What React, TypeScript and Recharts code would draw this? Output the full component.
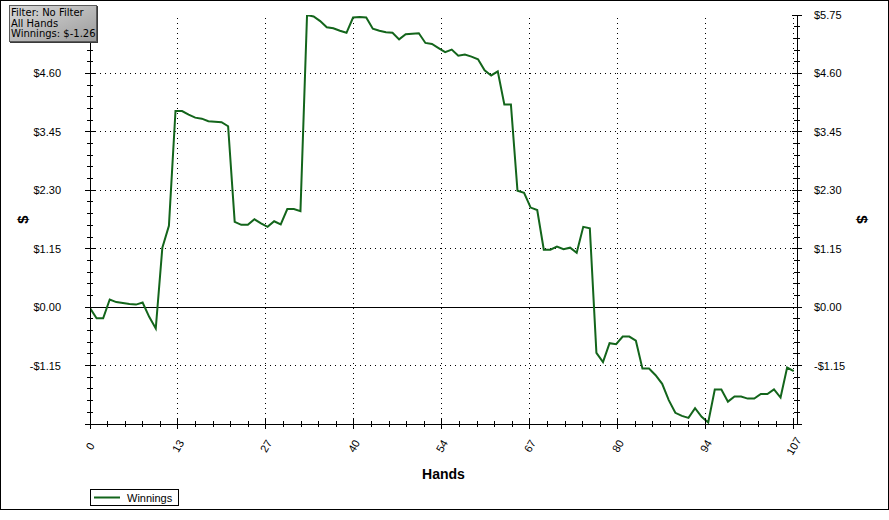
import React from 'react';
import { LineChart, Line, XAxis, YAxis, ReferenceLine, Legend, Label } from 'recharts';

// ---- data ----
const winnings: number[] = [
  -0.02, -0.22, -0.22, 0.15, 0.1, 0.08, 0.06, 0.05, 0.09, -0.19,
  -0.42, 1.17, 1.6, 3.86, 3.86, 3.79, 3.73, 3.71, 3.66, 3.65,
  3.64, 3.56, 1.68, 1.62, 1.62, 1.73, 1.65, 1.58, 1.69, 1.63,
  1.93, 1.93, 1.89, 5.75, 5.72, 5.63, 5.51, 5.49, 5.44, 5.4,
  5.7, 5.71, 5.7, 5.48, 5.44, 5.41, 5.4, 5.27, 5.37, 5.38,
  5.39, 5.2, 5.18, 5.1, 5.02, 5.07, 4.95, 4.97, 4.93, 4.88,
  4.66, 4.56, 4.64, 3.99, 3.99, 2.29, 2.25, 1.96, 1.91, 1.13,
  1.13, 1.19, 1.14, 1.17, 1.07, 1.58, 1.55, -0.9, -1.08, -0.71,
  -0.73, -0.58, -0.58, -0.66, -1.21, -1.21, -1.34, -1.51, -1.83, -2.08,
  -2.14, -2.18, -1.99, -2.16, -2.27, -1.62, -1.62, -1.86, -1.76, -1.76,
  -1.8, -1.8, -1.71, -1.71, -1.62, -1.78, -1.19, -1.26,
];
const hands: number[] = winnings.map((_, i) => i);

const xMajorTicks: number[] = [0, 13.375, 26.75, 40.125, 53.5, 66.875, 80.25, 93.625, 107];
const xTickLabels: string[] = ['0', '13', '27', '40', '54', '67', '80', '94', '107'];
const yMajorTicks: number[] = [-2.3, -1.15, 0, 1.15, 2.3, 3.45, 4.6, 5.75];
// left axis: top label is hidden behind the info box in the reference
const yLeftTickLabels: string[] = ['', '-$1.15', '$0.00', '$1.15', '$2.30', '$3.45', '$4.60', ''];
const yRightTickLabels: string[] = ['', '-$1.15', '$0.00', '$1.15', '$2.30', '$3.45', '$4.60', '$5.75'];
const infoLines: string[] = ['Filter: No Filter', 'All Hands', 'Winnings: $-1.26'];
const seriesName = 'Winnings';

// minor tick subdivisions (5 per major interval)
const withMinors = (majors: number[]) => {
  const out: number[] = [];
  for (let i = 0; i < majors.length - 1; i++) {
    for (let k = 0; k < 5; k++) out.push(+(majors[i] + ((majors[i + 1] - majors[i]) * k) / 5).toFixed(4));
  }
  out.push(majors[majors.length - 1]);
  return out;
};
const xTicks = withMinors(xMajorTicks);
const yTicks = withMinors(yMajorTicks);

const data = hands.map((h, i) => ({ hand: h, w: winnings[i] }));

const FONT = '"Liberation Sans", Arial, sans-serif';
const GREEN = '#13651b';
const majorIdx = (v: number, majors: number[]) => majors.findIndex((m) => Math.abs(m - v) < 1e-3);

const BottomTick = (props: any) => {
  const { x, y, payload } = props;
  const idx = majorIdx(payload.value, xMajorTicks);
  const len = idx >= 0 ? 5 : 3;
  const ly = y + 22;
  return (
    <g>
      <line x1={x} x2={x} y1={y - len} y2={y + len} stroke="#000" strokeWidth={1} shapeRendering="crispEdges" />
      {idx >= 0 && (
        <text
          x={x}
          y={ly}
          transform={`rotate(-60 ${x} ${ly})`}
          textAnchor="middle"
          dominantBaseline="central"
          fontSize={11}
          fontFamily={FONT}
          fill="#000"
        >
          {xTickLabels[idx]}
        </text>
      )}
    </g>
  );
};

const TopTick = (props: any) => {
  const { x, y, payload } = props;
  const idx = majorIdx(payload.value, xMajorTicks);
  const len = idx >= 0 ? 5 : 3;
  return <line x1={x} x2={x} y1={y} y2={y + len} stroke="#000" strokeWidth={1} shapeRendering="crispEdges" />;
};

const LeftTick = (props: any) => {
  const { x, y, payload } = props;
  const idx = majorIdx(payload.value, yMajorTicks);
  const len = idx >= 0 ? 5 : 3;
  return (
    <g>
      <line x1={x - len} x2={x + len} y1={y} y2={y} stroke="#000" strokeWidth={1} shapeRendering="crispEdges" />
      {idx >= 0 && yLeftTickLabels[idx] && (
        <text x={x - 29} y={y} textAnchor="end" dominantBaseline="central" fontSize={11} fontFamily={FONT} fill="#000">
          {yLeftTickLabels[idx]}
        </text>
      )}
    </g>
  );
};

const RightTick = (props: any) => {
  const { x, y, payload } = props;
  const idx = majorIdx(payload.value, yMajorTicks);
  const len = idx >= 0 ? 5 : 3;
  return (
    <g>
      <line x1={x - len} x2={x + len} y1={y} y2={y} stroke="#000" strokeWidth={1} shapeRendering="crispEdges" />
      {idx >= 0 && yRightTickLabels[idx] && (
        <text x={x + 17} y={y} textAnchor="start" dominantBaseline="central" fontSize={11} fontFamily={FONT} fill="#000">
          {yRightTickLabels[idx]}
        </text>
      )}
    </g>
  );
};

const dollarLabel = (side: 'left' | 'right') => (p: any) => {
  const vb = p && p.viewBox && typeof p.viewBox.y === 'number' ? p.viewBox : { x: 0, y: 15, width: 90, height: 409 };
  const cx = side === 'left' ? 22 : 862;
  const cy = vb.y + vb.height / 2;
  return (
    <text
      x={cx}
      y={cy}
      transform={`rotate(${side === 'left' ? -90 : 90} ${cx} ${cy})`}
      textAnchor="middle"
      dominantBaseline="central"
      fontSize={15}
      fontWeight="bold"
      fontFamily={FONT}
      fill="#000"
    >
      $
    </text>
  );
};

const LegendContent = (props: any) => {
  const item = props.payload && props.payload[0];
  const name = item ? item.value : seriesName;
  const color = item ? item.color : GREEN;
  return (
    <div
      style={{
        boxSizing: 'border-box',
        width: 89,
        height: 17,
        border: '1px solid #000',
        background: '#fff',
        display: 'flex',
        alignItems: 'center',
        fontFamily: FONT,
        fontSize: 11,
        color: '#000',
      }}
    >
      <svg width={33} height={15} style={{ display: 'block' }}>
        <line x1={3} x2={29} y1={7.5} y2={7.5} stroke={color} strokeWidth={2} />
      </svg>
      <span style={{ marginLeft: 3 }}>{name}</span>
    </div>
  );
};

export default function App() {
  return (
    <div style={{ position: 'absolute', left: 0, top: 0, width: 889, height: 520, background: '#fff' }}>
      <LineChart width={889} height={520} data={data} margin={{ top: 15, right: 0, left: 0, bottom: 36 }}>
        <XAxis
          xAxisId="b"
          dataKey="hand"
          type="number"
          domain={[0, 107.5]}
          allowDataOverflow
          ticks={xTicks}
          interval={0}
          tickSize={0}
          tickMargin={0}
          tickLine={false}
          axisLine={{ stroke: '#000', shapeRendering: 'crispEdges' }}
          tick={<BottomTick />}
          height={60}
        >
          <Label value="Hands" position="insideBottom" offset={5} fontSize={14} fontWeight="bold" fontFamily={FONT} fill="#000" />
        </XAxis>
        <XAxis
          xAxisId="t"
          orientation="top"
          dataKey="hand"
          type="number"
          domain={[0, 107.5]}
          allowDataOverflow
          ticks={xTicks}
          interval={0}
          tickSize={0}
          tickMargin={0}
          tickLine={false}
          axisLine={{ stroke: '#000', shapeRendering: 'crispEdges' }}
          tick={<TopTick />}
          height={0}
        />
        <YAxis
          yAxisId="l"
          type="number"
          domain={[-2.3, 5.75]}
          allowDataOverflow
          ticks={yTicks}
          interval={0}
          tickSize={0}
          tickMargin={0}
          tickLine={false}
          axisLine={{ stroke: '#000', shapeRendering: 'crispEdges' }}
          tick={<LeftTick />}
          width={90}
        >
          <Label content={dollarLabel('left')} />
        </YAxis>
        <YAxis
          yAxisId="r"
          orientation="right"
          type="number"
          domain={[-2.3, 5.75]}
          allowDataOverflow
          ticks={yTicks}
          interval={0}
          tickSize={0}
          tickMargin={0}
          tickLine={false}
          axisLine={{ stroke: '#000', shapeRendering: 'crispEdges' }}
          tick={<RightTick />}
          width={92}
        >
          <Label content={dollarLabel('right')} />
        </YAxis>
        {xMajorTicks.slice(1).map((v) => (
          <ReferenceLine key={'gx' + v} xAxisId="b" yAxisId="l" x={v} stroke="#000" strokeDasharray="1 4" shapeRendering="crispEdges" />
        ))}
        {yMajorTicks
          .filter((v) => v !== 0 && v !== -2.3 && v !== 5.75)
          .map((v) => (
            <ReferenceLine key={'gy' + v} xAxisId="b" yAxisId="l" y={v} stroke="#000" strokeDasharray="1 4" shapeRendering="crispEdges" />
          ))}
        <ReferenceLine xAxisId="b" yAxisId="l" y={0} stroke="#000" strokeWidth={1} shapeRendering="crispEdges" />
        <Line
          xAxisId="b"
          yAxisId="l"
          type="linear"
          dataKey="w"
          name={seriesName}
          stroke={GREEN}
          strokeWidth={2}
          dot={false}
          activeDot={false}
          isAnimationActive={false}
        />
        <Legend
          verticalAlign="middle"
          align="center"
          layout="horizontal"
          wrapperStyle={{ left: 90, top: 489, width: 'auto', height: 'auto' }}
          content={<LegendContent />}
        />
      </LineChart>
      <div
        style={{
          position: 'absolute',
          left: 9,
          top: 5,
          width: 88,
          height: 37,
          boxSizing: 'border-box',
          border: '1px solid #5a5a5a',
          boxShadow: '1px 1px 0 #3a3a3a',
          background: 'linear-gradient(to bottom right, #d8d8d8, #9c9c9c)',
          fontFamily: '"DejaVu Sans", Verdana, sans-serif',
          fontSize: 10,
          lineHeight: '10.7px',
          padding: '2px 0 0 1px',
          color: '#000',
          whiteSpace: 'nowrap',
        }}
      >
        {infoLines.map((t) => (
          <div key={t} style={{ height: 10.7 }}>
            {t}
          </div>
        ))}
      </div>
      <div
        style={{
          position: 'absolute',
          left: 0,
          top: 0,
          width: 889,
          height: 510,
          boxSizing: 'border-box',
          border: '1px solid #000',
          pointerEvents: 'none',
        }}
      />
    </div>
  );
}
